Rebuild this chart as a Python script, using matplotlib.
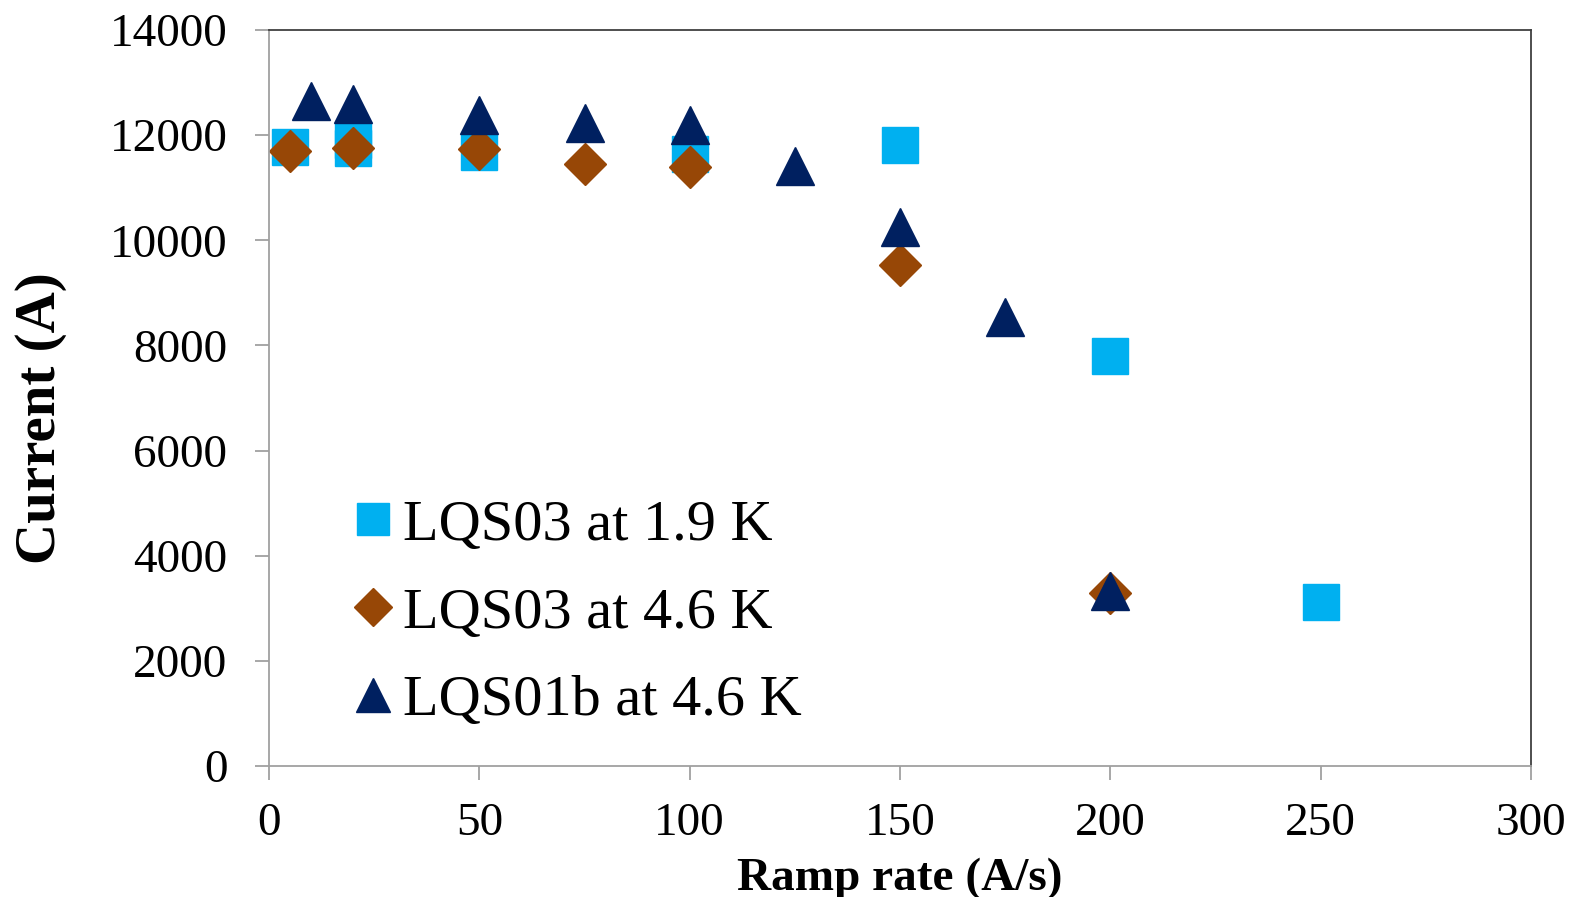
import numpy as np
import matplotlib.pyplot as plt

plt.rcParams['font.family'] = ['Liberation Serif', 'DejaVu Serif']

# LQS03 at 1.9 K
x_sq = [5, 20, 20, 50, 100, 150, 200, 250]
y_sq = [11780, 11900, 11750, 11670, 11650, 11810, 7800, 3125]
# LQS03 at 4.6 K
x_dm = [5, 20, 50, 75, 100, 150, 200]
y_dm = [11700, 11750, 11735, 11450, 11400, 9530, 3290]
# LQS01b at 4.6 K
x_tr = [10, 20, 50, 75, 100, 125, 150, 175, 200]
y_tr = [12650, 12600, 12380, 12230, 12185, 11415, 10250, 8540, 3330]

fig = plt.figure(figsize=(15.81, 8.97), dpi=100)
ax = fig.add_axes([269/1581, 1 - 766/897, (1531-269)/1581, (766-30)/897])

ax.plot(x_sq, y_sq, ls='none', marker='s', ms=26, color='#00b0f0', mec='#00b0f0',
        label='LQS03 at 1.9 K')
ax.plot(x_dm, y_dm, ls='none', marker='D', ms=21, color='#974706', mec='#974706',
        label='LQS03 at 4.6 K')
ax.plot(x_tr, y_tr, ls='none', marker='^', ms=27, color='#002060', mec='#002060',
        label='LQS01b at 4.6 K')

ax.set_xlim(0, 300)
ax.set_ylim(0, 14000)
ax.set_xticks(np.arange(0, 301, 50))
ax.set_yticks(np.arange(0, 14001, 2000))
ax.tick_params(direction='out', length=10, width=1.3, color='#a0a0a0',
               labelsize=34, pad=16)
ax.tick_params(axis='y', pad=20)
for s in ['left', 'bottom']:
    ax.spines[s].set_color('#a0a0a0')
for s in ['top', 'right']:
    ax.spines[s].set_color('#404040')
for s in ax.spines.values():
    s.set_linewidth(1.3)

ax.set_xlabel('Ramp rate (A/s)', fontsize=34, fontweight='bold', labelpad=9)
ax.set_ylabel('Current (A)', fontsize=41, fontweight='bold')
ax.yaxis.set_label_coords(-0.160, 0.473)

leg = ax.legend(loc='lower left', bbox_to_anchor=(0.018, -0.019), frameon=False,
                fontsize=42, handletextpad=0.0, handlelength=1.0,
                labelspacing=0.6, markerscale=0.9)

fig.savefig('out.png', dpi=100)
